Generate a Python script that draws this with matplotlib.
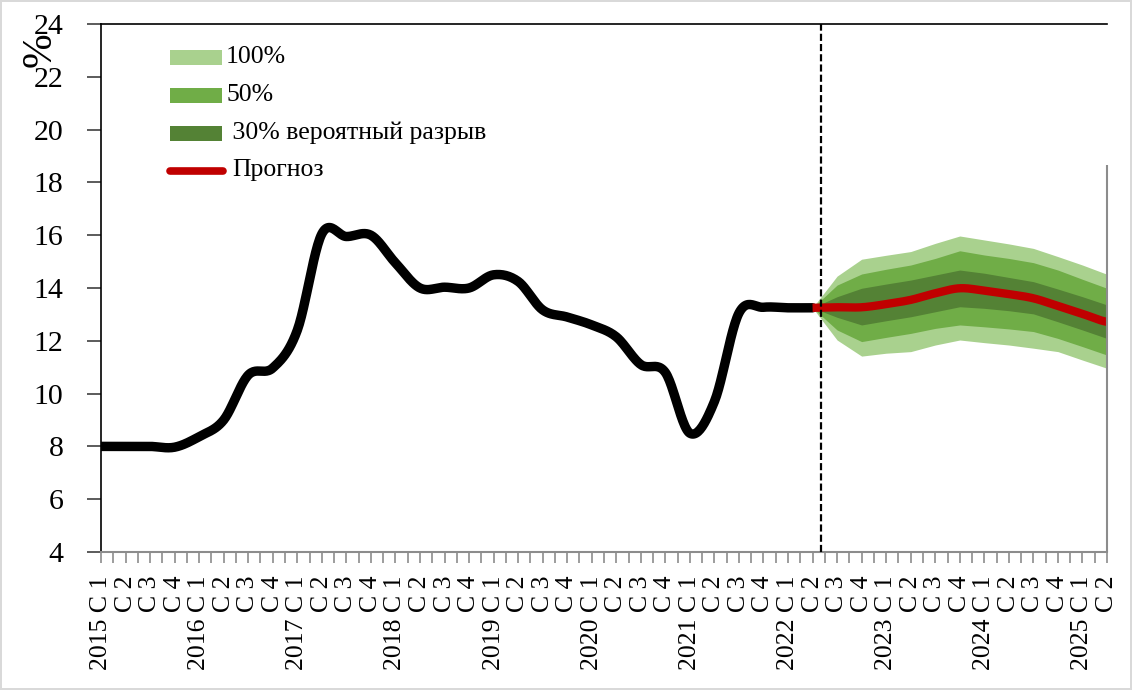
import matplotlib
matplotlib.use("Agg")
import numpy as np
import matplotlib.pyplot as plt
from matplotlib.patches import Rectangle
from matplotlib.lines import Line2D

plt.rcParams["font.family"] = ["Liberation Serif", "DejaVu Serif"]

# ===== 数据 =====
YEARS = list(range(2015, 2026))
QUARTER_LABELS = [f"{y} C {q}" if q == 1 else f"C {q}"
                  for y in YEARS for q in range(1, 5)][:42]

# 历史 (2015 C1 .. 2022 C2)
hist = [8.0, 8.0, 8.0, 7.97, 8.37, 9.0, 10.7, 10.97, 12.4, 16.05,
        15.95, 16.0, 14.95, 14.0, 14.03, 14.0, 14.5, 14.25, 13.17, 12.9,
        12.6, 12.15, 11.1, 10.8, 8.5, 9.7, 13.05, 13.27, 13.25, 13.25]

# 预测 (2022 C2 .. 2025 C2)
forecast = [13.25, 13.27, 13.27, 13.39, 13.55, 13.8, 13.99, 13.9, 13.77,
            13.61, 13.32, 13.02, 12.72]
hi_100 = [13.25, 14.45, 15.09, 15.24, 15.38, 15.69, 15.97, 15.82, 15.67,
          15.5, 15.19, 14.87, 14.52]
hi_50 = [13.25, 14.11, 14.53, 14.71, 14.87, 15.12, 15.41, 15.25, 15.12,
         14.96, 14.68, 14.33, 13.99]
hi_30 = [13.25, 13.67, 13.99, 14.15, 14.3, 14.49, 14.68, 14.56, 14.4,
         14.24, 13.96, 13.67, 13.36]
lo_30 = [13.25, 12.89, 12.6, 12.76, 12.91, 13.1, 13.29, 13.23, 13.14,
         13.02, 12.72, 12.41, 12.09]
lo_50 = [13.25, 12.41, 11.97, 12.13, 12.28, 12.47, 12.6, 12.53, 12.45,
         12.35, 12.09, 11.78, 11.46]
lo_100 = [13.25, 12.03, 11.42, 11.53, 11.59, 11.84, 12.03, 11.93, 11.84,
          11.72, 11.59, 11.27, 10.96]

BREAK_POS = 29.35  # 竖虚线位置

C_LIGHT = "#A9D18E"
C_MID = "#70AD47"
C_DARK = "#548235"
C_RED = "#C00000"


def smooth(x, y, n=24):
    """Excel 风格平滑线 (Catmull-Rom)。"""
    x = np.asarray(x, float)
    y = np.asarray(y, float)
    xp = np.concatenate([[2 * x[0] - x[1]], x, [2 * x[-1] - x[-2]]])
    yp = np.concatenate([[y[0]], y, [y[-1]]])
    xs, ys = [], []
    t = np.linspace(0, 1, n, endpoint=False)
    for i in range(1, len(xp) - 2):
        for arr, out in ((xp, xs), (yp, ys)):
            p0, p1, p2, p3 = arr[i - 1], arr[i], arr[i + 1], arr[i + 2]
            out.extend(0.5 * (2 * p1 + (-p0 + p2) * t
                              + (2 * p0 - 5 * p1 + 4 * p2 - p3) * t ** 2
                              + (-p0 + 3 * p1 - 3 * p2 + p3) * t ** 3))
    xs.append(x[-1])
    ys.append(y[-1])
    return np.array(xs), np.array(ys)


W, H = 1132, 690
fig = plt.figure(figsize=(W / 100, H / 100), dpi=100)
fig.patch.set_edgecolor("#d9d9d9")
fig.patch.set_linewidth(1.5)
ax = fig.add_axes([101 / W, 1 - 552 / H, (1107 - 101) / W, (552 - 24) / H])

x_hist = np.arange(len(hist))
x_fc = np.arange(len(hist) - 1, len(hist) - 1 + len(forecast))

ax.fill_between(x_fc, lo_100, hi_100, color=C_LIGHT, lw=0, zorder=1)
ax.fill_between(x_fc, lo_50, hi_50, color=C_MID, lw=0, zorder=2)
ax.fill_between(x_fc, lo_30, hi_30, color=C_DARK, lw=0, zorder=3)

sx, sy = smooth(x_hist, hist)
ax.plot(sx, sy, color="black", lw=6.8, solid_capstyle="round", zorder=4)
fx, fy = smooth(x_fc, forecast)
ax.plot(fx, fy, color=C_RED, lw=6, solid_capstyle="butt", zorder=5)

ax.axvline(BREAK_POS, color="black", lw=1.6, ls=(0, (3.2, 1.4)), zorder=6)

ax.set_xlim(0, 41)
ax.set_ylim(4, 24)
ax.set_yticks(range(4, 25, 2))
ax.set_xticks(range(42))
ax.set_xticks(np.arange(0.5, 41, 1), minor=True)
ax.set_xticklabels(QUARTER_LABELS, rotation=90, ha="center", va="top",
                   fontsize=18.5)
ax.tick_params(axis="y", labelsize=21.5, length=10, width=1.2,
               color="#404040", pad=17)
ax.tick_params(axis="x", which="both", length=8, width=1.2,
               color="#8c8c8c", pad=9)

ax.spines["left"].set_color("black")
ax.spines["left"].set_linewidth(1.2)
ax.spines["top"].set_color("black")
ax.spines["top"].set_linewidth(1.2)
ax.spines["bottom"].set_color("#8c8c8c")
ax.spines["bottom"].set_linewidth(1.5)
ax.spines["right"].set_visible(False)
ax.vlines(41, 4, 18.66, color="#8c8c8c", lw=1.5, clip_on=False, zorder=7)

fig.text(40 / W, 1 - 50 / H, "%", rotation=90, fontsize=30,
         ha="center", va="center")

# 图例（手工放置，像素坐标）
def fx_(px):
    return px / W


def fy_(py):
    return 1 - py / H


legend_rows = [
    (57, C_LIGHT, "100%"),
    (95, C_MID, "50%"),
    (133, C_DARK, " 30% вероятный разрыв"),
]
for py, col, txt in legend_rows:
    fig.patches.append(Rectangle((fx_(170), fy_(py + 7.5)), 52 / W, 15 / H,
                                 transform=fig.transFigure, color=col,
                                 lw=0))
    fig.text(fx_(226), fy_(py), txt, fontsize=18.5, ha="left", va="center")
fig.lines.append(Line2D([fx_(170), fx_(223)], [fy_(170.5)] * 2,
                        transform=fig.transFigure, color=C_RED, lw=5.5,
                        solid_capstyle="round"))
fig.text(fx_(232), fy_(170), "Прогноз", fontsize=18.5, ha="left",
         va="center")

fig.savefig("out.png", dpi=100)
